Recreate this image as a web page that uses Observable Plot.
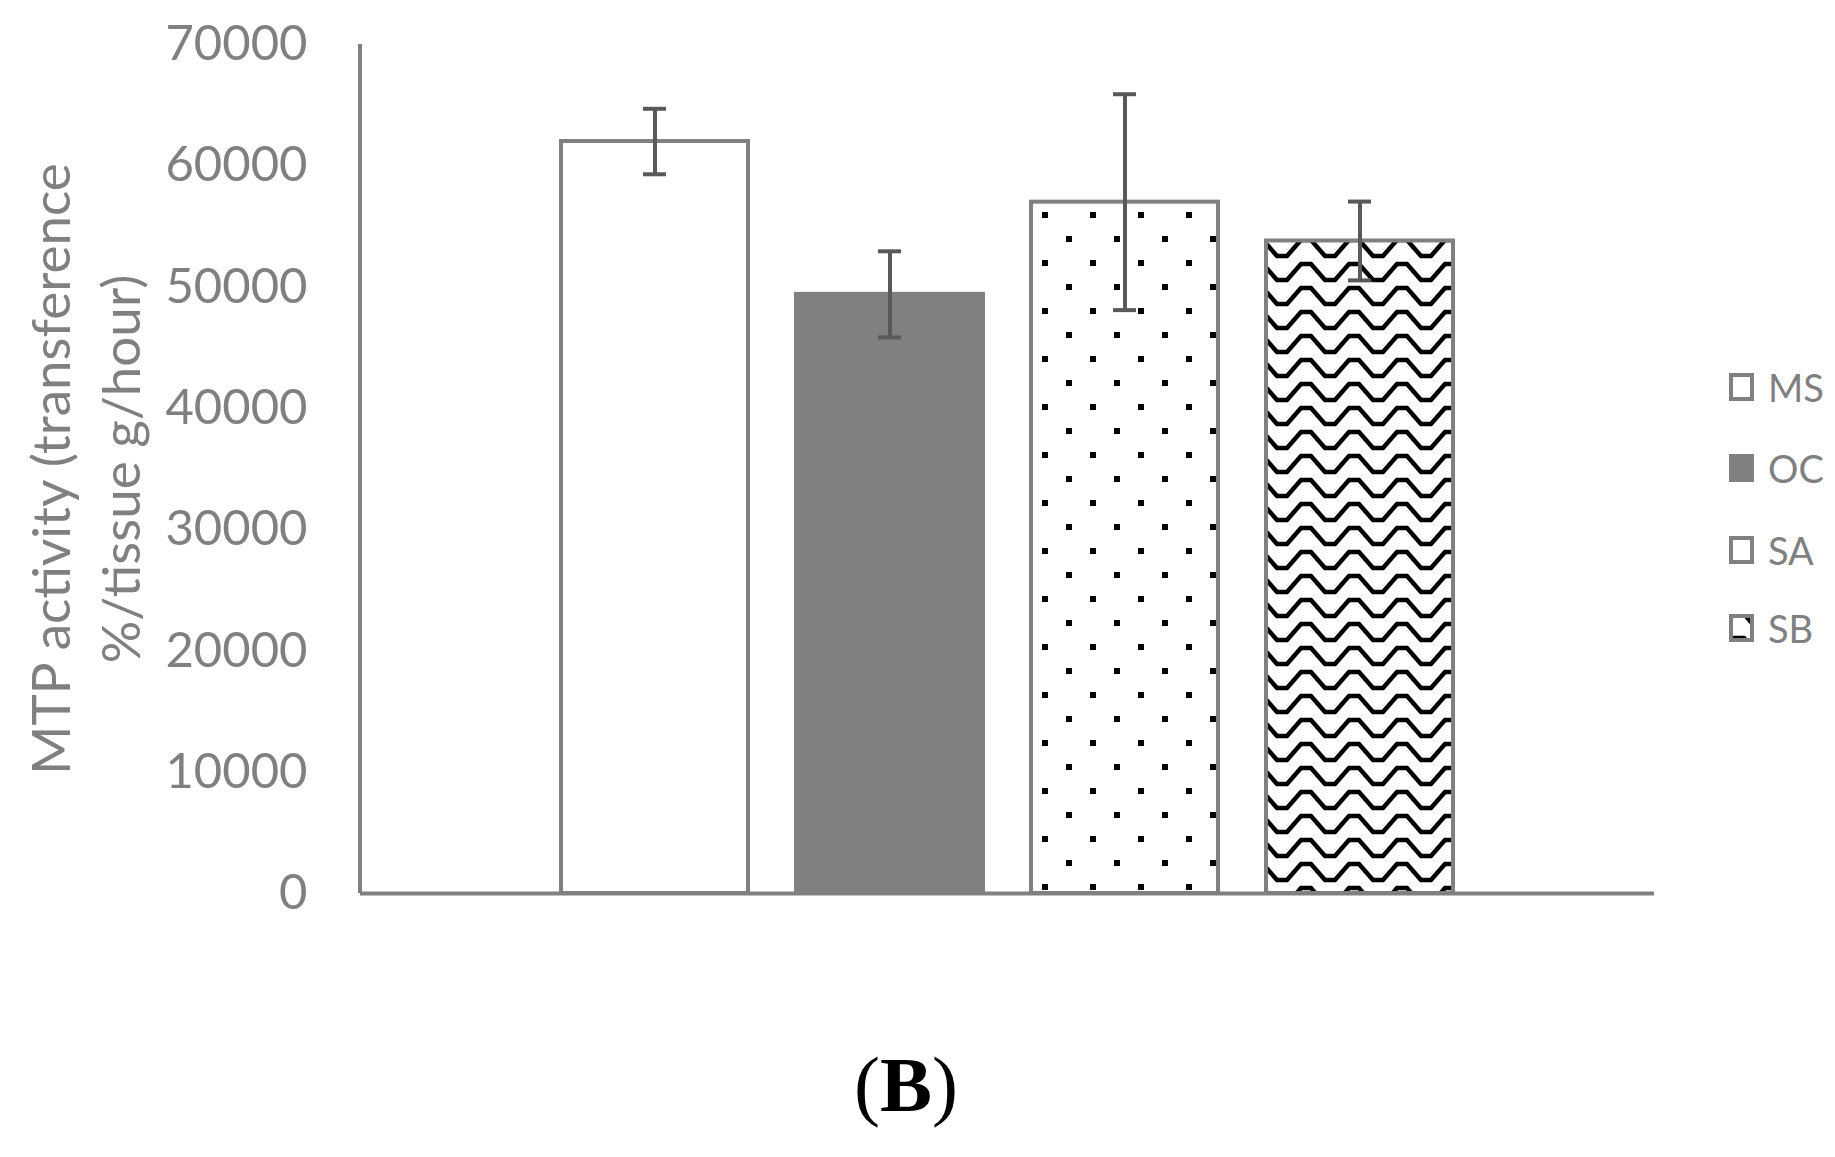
<!DOCTYPE html>
<html>
<head>
<meta charset="utf-8">
<script src="https://cdn.jsdelivr.net/npm/d3@7"></script>
<script src="https://cdn.jsdelivr.net/npm/@observablehq/plot@0.6"></script>
<style>
  body { margin: 0; background: white; }
  #wrap { position: relative; width: 1835px; height: 1157px; font-family: Lato, "Open Sans", sans-serif; }
  #legend { position: absolute; left: 1729px; top: 0; }
  .item { position: absolute; left: 0; display: flex; align-items: center; height: 40px; color: #808080; font-size: 38px; white-space: nowrap; }
  .item svg { margin-right: 14px; }
  #caption { position: absolute; left: 0; width: 1812px; top: 1040px; text-align: center;
    font-family: "Liberation Serif", "DejaVu Serif", serif; font-size: 78px; color: black; }
</style>
</head>
<body>
<div id="wrap">
  <div id="chart1"></div>
  <div id="legend"></div>
  <div id="caption">(<b>B</b>)</div>
</div>
<script>
// values
const groups = ["MS", "OC", "SA", "SB"]
const means = [62000, 49400, 57000, 53800]
const errors = [2700, 3550, 8900, 3250]
const yTicks = [0, 10000, 20000, 30000, 40000, 50000, 60000, 70000]
const yLabel = "MTP activity (transference\n%/tissue g/hour)"

const data = groups.map((g, i) => ({group: g, value: means[i], err: errors[i]}))

// fill for each bar (patterns are added to the svg below)
const fillOf = {MS: "white", OC: "#808080", SA: "url(#dots)", SB: "url(#zigzag)"}
const gray = "#808080"
const errColor = "#595959"

const yAxisLine = (index, scales, values, dims) =>
  d3.create("svg:line")
    .attr("x1", dims.marginLeft).attr("x2", dims.marginLeft)
    .attr("y1", scales.y(0)).attr("y2", scales.y(d3.max(yTicks)))
    .attr("stroke", gray).attr("stroke-width", 4)
    .node()

let chart1 = Plot.plot({
  width: 1835,
  height: 1157,
  marginLeft: 360,
  marginRight: 181,
  marginTop: 44,
  marginBottom: 264,
  style: {
    fontFamily: "Lato, 'Open Sans', sans-serif",
    background: "white",
    color: gray
  },
  x: {domain: groups, paddingInner: 0.204, paddingOuter: 0.855, axis: null},
  y: {domain: [0, 70000]},
  color: {type: "identity"},
  marks: [
    Plot.barY(data, {
      x: "group",
      y: "value",
      fill: d => fillOf[d.group],
      stroke: gray,
      strokeWidth: 4
    }),
    Plot.ruleY([0], {stroke: gray, strokeWidth: 4}),
    yAxisLine,
    Plot.axisY({
      ticks: yTicks,
      tickSize: 0,
      tickPadding: 53,
      tickFormat: "d",
      fontSize: 49,
      fill: gray,
      label: null
    }),
    // error bars
    Plot.ruleX(data, {
      x: "group",
      y1: d => d.value - d.err,
      y2: d => d.value + d.err,
      stroke: errColor,
      strokeWidth: 4
    }),
    Plot.tickY(data, {x: "group", y: d => d.value + d.err, insetLeft: 82, insetRight: 82, stroke: errColor, strokeWidth: 4}),
    Plot.tickY(data, {x: "group", y: d => d.value - d.err, insetLeft: 82, insetRight: 82, stroke: errColor, strokeWidth: 4}),
    Plot.text([yLabel], {
      text: d => d,
      frameAnchor: "left",
      dx: -278,
      rotate: -90,
      fontSize: 53,
      lineHeight: 1.32,
      fill: gray,
      textAnchor: "middle"
    })
  ]
});

// hatch patterns
const defs = d3.select(chart1).insert("defs", ":first-child")
const dots = defs.append("pattern").attr("id", "dots")
  .attr("patternUnits", "userSpaceOnUse")
  .attr("x", 10).attr("y", 44).attr("width", 48).attr("height", 48)
dots.append("rect").attr("width", 48).attr("height", 48).attr("fill", "white")
dots.append("rect").attr("x", 0).attr("y", 0).attr("width", 6).attr("height", 6).attr("fill", "black")
dots.append("rect").attr("x", 24).attr("y", 24).attr("width", 6).attr("height", 6).attr("fill", "black")

// wave with short flat tops and bottoms, like the stepped Excel hatch
const zig = defs.append("pattern").attr("id", "zigzag")
  .attr("patternUnits", "userSpaceOnUse")
  .attr("x", 34).attr("y", 20).attr("width", 48).attr("height", 24)
zig.append("rect").attr("width", 48).attr("height", 24).attr("fill", "white")
zig.append("path")
  .attr("d", "M-29,4L-19,4L-5,20L5,20L19,4L29,4L43,20L53,20L67,4L77,4")
  .attr("fill", "none").attr("stroke", "black").attr("stroke-width", 4.5)
  .attr("stroke-linejoin", "miter")

d3.select("#chart1").append(() => chart1);

// legend on the right
const legendY = [387, 468, 550, 628]
const legend = d3.select("#legend")
groups.forEach((g, i) => {
  const item = legend.append("div").attr("class", "item").style("top", (legendY[i] - 20) + "px")
  const sw = item.append("svg").attr("width", 25).attr("height", 28)
  sw.append("rect").attr("x", 2).attr("y", 2).attr("width", 21).attr("height", 24)
    .attr("fill", fillOf[g]).attr("stroke", gray).attr("stroke-width", 4)
  item.append("span").text(g)
})
</script>
</body>
</html>
